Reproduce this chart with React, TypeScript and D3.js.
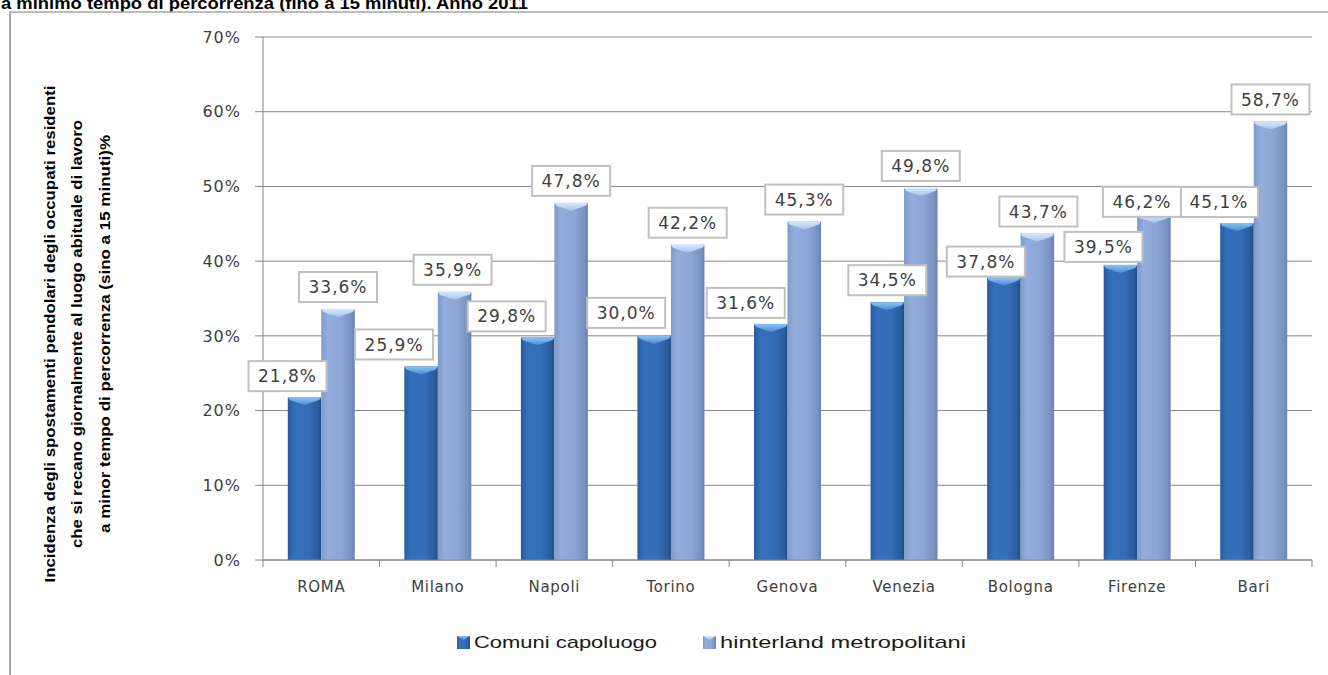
import React from "react";
import * as d3 from "d3";

const categories = ["ROMA", "Milano", "Napoli", "Torino", "Genova", "Venezia", "Bologna", "Firenze", "Bari"];
const comuniCapoluogo = [21.8, 25.9, 29.8, 30.0, 31.6, 34.5, 37.8, 39.5, 45.1];
const hinterlandMetropolitani = [33.6, 35.9, 47.8, 42.2, 45.3, 49.8, 43.7, 46.2, 58.7];
const seriesNames = ["Comuni capoluogo", "hinterland metropolitani"];
const yTicks = [0, 10, 20, 30, 40, 50, 60, 70];
const titleText = "a minimo tempo di percorrenza (fino a 15 minuti). Anno 2011";
const axisTitleLines = [
  "Incidenza degli spostamenti pendolari degli occupati residenti",
  "che si recano giornalmente al luogo abituale di lavoro",
  "a minor tempo di percorrenza (sino a 15 minuti)%",
];
// manual label nudges (px) as in the original, relative to default position above bar
const darkNudgeX = [-17, -27, -31, -28, -25, 0, -18, -17, -18];
const darkNudgeY = [1, 0, 1, -1, 1, 0, 6, 4, 1];
const lightNudgeX = [0, -2, 0, 0, 0, 0, 1, -12, 0];
const lightNudgeY = [0, 0, 0, 0, 0, 0, 0, 9, 0];

const W = 1328;
const H = 675;
const plotLeft = 263;
const plotRight = 1312;
const plotTop = 37;
const plotBottom = 560;

const fmt = (v: number) => v.toFixed(1).replace(".", ",") + "%";

export default function App() {
  const x0 = d3.scaleBand<string>().domain(categories).range([plotLeft, plotRight]).padding(0);
  const bw = x0.bandwidth();
  const x1 = d3
    .scaleBand<string>()
    .domain(seriesNames)
    .range([bw * 0.2127, bw * 0.7873])
    .padding(0);
  const y = d3.scaleLinear().domain([0, 70]).range([plotBottom, plotTop]);
  const series = [comuniCapoluogo, hinterlandMetropolitani];
  const nudges = [
    [darkNudgeX, darkNudgeY],
    [lightNudgeX, lightNudgeY],
  ];
  const fills = ["url(#gDark)", "url(#gLight)"];
  const caps = ["url(#capDark)", "url(#capLight)"];
  const labelFont = "'DejaVu Sans', Verdana, sans-serif";

  return (
    <svg
      width={W}
      height={H}
      style={{ position: "absolute", left: 0, top: 0, background: "#fff" }}
      xmlns="http://www.w3.org/2000/svg"
    >
      <defs>
        <linearGradient id="gDark" x1="0" x2="1" y1="0" y2="0">
          <stop offset="0" stopColor="#2a5a9e" />
          <stop offset="0.2" stopColor="#3570bd" />
          <stop offset="0.6" stopColor="#346db8" />
          <stop offset="0.9" stopColor="#2a5c9f" />
          <stop offset="1" stopColor="#1f4a85" />
        </linearGradient>
        <linearGradient id="gLight" x1="0" x2="1" y1="0" y2="0">
          <stop offset="0" stopColor="#7f9ac9" />
          <stop offset="0.2" stopColor="#93aedd" />
          <stop offset="0.6" stopColor="#8ba6d6" />
          <stop offset="0.9" stopColor="#7891c2" />
          <stop offset="1" stopColor="#6a81b0" />
        </linearGradient>
        <linearGradient id="capDark" x1="0" x2="0" y1="0" y2="1">
          <stop offset="0" stopColor="#8cc2f2" />
          <stop offset="1" stopColor="#4d8ad6" />
        </linearGradient>
        <linearGradient id="capLight" x1="0" x2="0" y1="0" y2="1">
          <stop offset="0" stopColor="#d7e8fb" />
          <stop offset="1" stopColor="#a8c4ec" />
        </linearGradient>
      </defs>

      {/* title (clipped at top, as in the original) */}
      <text
        x={1}
        y={9}
        fontFamily="'Liberation Sans', Arial, sans-serif"
        fontWeight="bold"
        fontSize={17}
        textLength={527}
        lengthAdjust="spacingAndGlyphs"
        fill="#000"
      >
        {titleText}
      </text>

      {/* frame */}
      <line x1={10} x2={10} y1={12} y2={H} stroke="#a6a6a6" strokeWidth={2} />
      <line x1={10} x2={W} y1={12} y2={12} stroke="#a6a6a6" strokeWidth={1.5} />

      {/* gridlines and y ticks */}
      {yTicks.map((t) => (
        <g key={t}>
          <line x1={plotLeft} x2={plotRight} y1={y(t)} y2={y(t)} stroke="#868686" strokeWidth={1} />
          <line x1={plotLeft - 8} x2={plotLeft} y1={y(t)} y2={y(t)} stroke="#868686" strokeWidth={1} />
          <text
            x={241}
            y={y(t)}
            dy="0.36em"
            textAnchor="end"
            fontFamily={labelFont}
            fontSize={16}
            letterSpacing={1}
            fill="#404040"
          >
            {t + "%"}
          </text>
        </g>
      ))}
      <line x1={plotLeft} x2={plotLeft} y1={plotTop} y2={plotBottom} stroke="#868686" strokeWidth={1} />

      {/* x ticks */}
      {categories.concat(["__end"]).map((c, i) => {
        const xx = plotLeft + i * bw;
        return <line key={"xt" + i} x1={xx} x2={xx} y1={plotBottom} y2={plotBottom + 7} stroke="#868686" strokeWidth={1} />;
      })}
      {categories.map((c) => (
        <text
          key={"xl" + c}
          x={(x0(c) as number) + bw / 2}
          y={592}
          textAnchor="middle"
          fontFamily={labelFont}
          fontSize={15}
          letterSpacing={0.7}
          fill="#404040"
        >
          {c}
        </text>
      ))}

      {/* bars */}
      {series.map((vals, si) =>
        vals.map((v, i) => {
          const bx = (x0(categories[i]) as number) + (x1(seriesNames[si]) as number);
          const bwid = x1.bandwidth();
          const top = y(v);
          const cx = bx + bwid / 2;
          return (
            <g key={"b" + si + "-" + i}>
              <rect x={bx} y={top} width={bwid} height={plotBottom - top} fill={fills[si]} />
              <polygon
                points={`${bx},${top} ${bx + bwid},${top} ${bx + bwid - 2},${top + 3} ${cx},${top + 8} ${bx + 2},${top + 3}`}
                fill={caps[si]}
              />
            </g>
          );
        })
      )}
      <line x1={plotLeft} x2={plotRight} y1={plotBottom} y2={plotBottom} stroke="#868686" strokeWidth={1} />

      {/* data labels */}
      {series.map((vals, si) =>
        vals.map((v, i) => {
          const bx = (x0(categories[i]) as number) + (x1(seriesNames[si]) as number);
          const cx = bx + x1.bandwidth() / 2 + nudges[si][0][i];
          const cy = y(v) - 22 + nudges[si][1][i];
          return (
            <g key={"l" + si + "-" + i}>
              <rect x={cx - 39} y={cy - 15} width={78} height={30} fill="#fff" stroke="#c0c0c0" strokeWidth={2} />
              <text
                x={cx}
                y={cy}
                dy="0.36em"
                textAnchor="middle"
                fontFamily={labelFont}
                fontSize={17}
                letterSpacing={1}
                fill="#404040"
              >
                {fmt(v)}
              </text>
            </g>
          );
        })
      )}

      {/* y axis title */}
      {axisTitleLines.map((line, i) => (
        <text
          key={"at" + i}
          transform={`translate(${[55, 82, 110][i]},334) rotate(-90)`}
          textAnchor="middle"
          fontFamily="'Liberation Sans', Arial, sans-serif"
          fontWeight="bold"
          fontSize={15}
          textLength={[497, 428, 398][i]}
          lengthAdjust="spacingAndGlyphs"
          fill="#000"
        >
          {line}
        </text>
      ))}

      {/* legend */}
      {seriesNames.map((s, si) => {
        const lx = [457, 703][si];
        return (
          <g key={"lg" + s}>
            <rect x={lx} y={636} width={13} height={13} fill={fills[si]} />
            <polygon points={`${lx},636 ${lx + 13},636 ${lx + 6.5},640`} fill={caps[si]} />
            <text
              x={lx + 17}
              y={648}
              fontFamily="'Liberation Sans', Arial, sans-serif"
              fontSize={17}
              textLength={[183, 246][si]}
              lengthAdjust="spacingAndGlyphs"
              fill="#1a1a1a"
            >
              {s}
            </text>
          </g>
        );
      })}
    </svg>
  );
}
